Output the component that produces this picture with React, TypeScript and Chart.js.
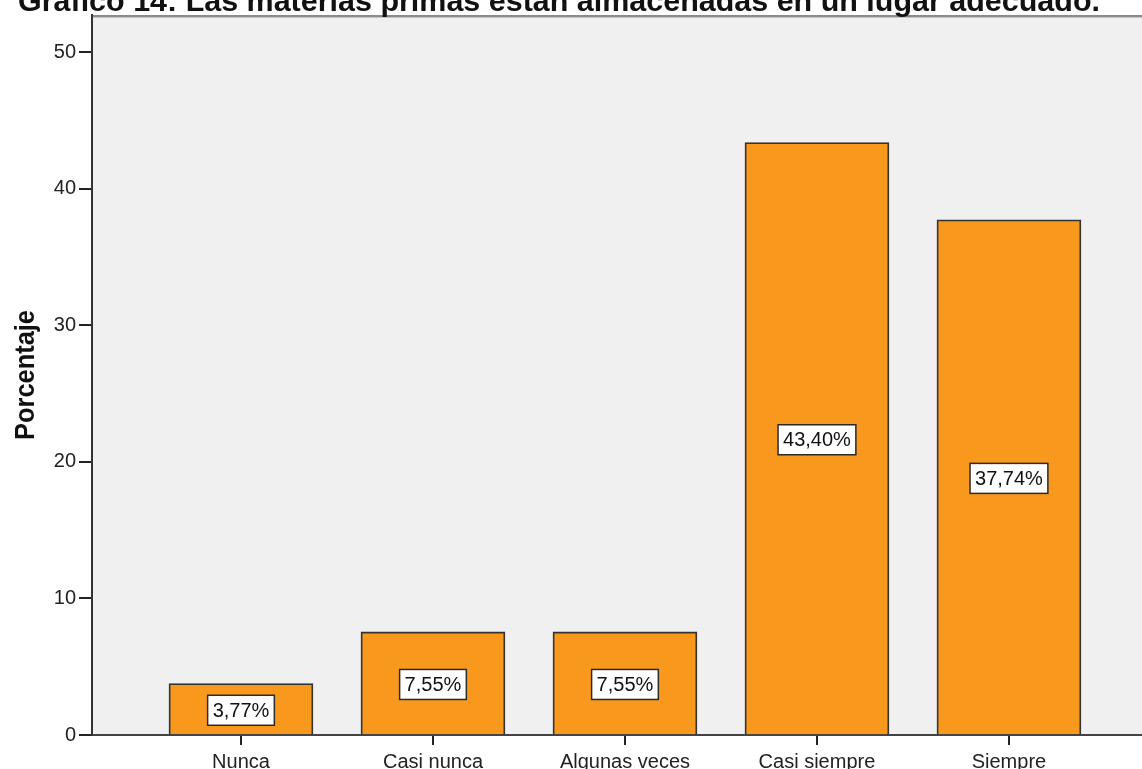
import { useEffect, useRef } from 'react';
import { Chart, registerables } from 'chart.js';

Chart.register(...registerables);

const categories = ['Nunca', 'Casi nunca', 'Algunas veces', 'Casi siempre', 'Siempre'];
const percentages = [3.77, 7.55, 7.55, 43.4, 37.74];
const yTicks = [0, 10, 20, 30, 40, 50];
const titleText = 'Gráfico 14: Las materias primas están almacenadas en un lugar adecuado.';
const yAxisTitle = 'Porcentaje';

const FONT = "Arial, 'Liberation Sans', sans-serif";

export default function App() {
  const ref = useRef<HTMLCanvasElement>(null);

  useEffect(() => {
    document.body.style.margin = '0';
    const canvas = ref.current!;

    const bgPlugin = {
      id: 'bgPlot',
      beforeDraw(chart: any) {
        const { ctx, chartArea: a } = chart;
        ctx.save();
        ctx.fillStyle = '#f0f0f0';
        ctx.fillRect(a.left, a.top, a.right - a.left, a.bottom - a.top);
        ctx.fillStyle = '#8a8a8a';
        ctx.fillRect(a.left, a.top, a.right - a.left, 2);
        ctx.fillStyle = '#c4c4c4';
        ctx.fillRect(a.left, a.top + 2, a.right - a.left, 1);
        ctx.restore();
      },
    };

    const labelsPlugin = {
      id: 'valueLabels',
      afterDatasetsDraw(chart: any) {
        const ctx = chart.ctx;
        const meta = chart.getDatasetMeta(0);
        ctx.save();
        ctx.font = `20px ${FONT}`;
        ctx.textAlign = 'center';
        ctx.textBaseline = 'middle';
        meta.data.forEach((el: any, i: number) => {
          const { x, y, base } = el.getProps(['x', 'y', 'base'], true);
          const mid = (y + base) / 2 + 1.5;
          const text = percentages[i].toFixed(2).replace('.', ',') + '%';
          const w = ctx.measureText(text).width + 10;
          const h = 30;
          ctx.fillStyle = '#ffffff';
          ctx.fillRect(x - w / 2, mid - h / 2, w, h);
          ctx.strokeStyle = '#2a2a2a';
          ctx.lineWidth = 1.5;
          ctx.strokeRect(x - w / 2, mid - h / 2, w, h);
          ctx.fillStyle = '#111111';
          ctx.fillText(text, x, mid + 1);
        });
        ctx.restore();
      },
    };

    const textPlugin = {
      id: 'texts',
      afterDraw(chart: any) {
        const ctx = chart.ctx;
        ctx.save();
        ctx.fillStyle = '#111111';
        ctx.font = `bold 30px ${FONT}`;
        ctx.textAlign = 'left';
        ctx.textBaseline = 'alphabetic';
        const tw = ctx.measureText(titleText).width;
        ctx.translate(18, 11);
        ctx.scale(1082 / tw, 1);
        ctx.fillText(titleText, 0, 0);
        ctx.restore();

        ctx.save();
        ctx.fillStyle = '#111111';
        ctx.font = `bold 28px ${FONT}`;
        ctx.textAlign = 'center';
        ctx.textBaseline = 'middle';
        const yw = ctx.measureText(yAxisTitle).width;
        ctx.translate(26, 375);
        ctx.rotate(-Math.PI / 2);
        ctx.scale(130 / yw, 1);
        ctx.fillText(yAxisTitle, 0, 0);
        ctx.restore();
      },
    };

    const chart = new Chart(canvas, {
      type: 'bar',
      data: {
        datasets: [
          {
            data: categories.map((_, i) => ({ x: i, y: percentages[i] })),
            backgroundColor: '#F8991E',
            borderColor: '#333333',
            borderWidth: 1.8,
            barThickness: 144,
          } as any,
        ],
      },
      options: {
        responsive: false,
        animation: false,
        devicePixelRatio: 1,
        layout: { padding: { top: 14, left: 0, right: 0, bottom: 0 } },
        plugins: {
          legend: { display: false },
          tooltip: { enabled: false },
          title: { display: false },
        },
        scales: {
          x: {
            type: 'linear',
            offset: false,
            min: -0.776,
            max: 4.693,
            afterBuildTicks: (s: any) => {
              s.ticks = categories.map((_, i) => ({ value: i }));
            },
            afterFit: (s: any) => {
              s.height = 34;
            },
            grid: { offset: false, drawOnChartArea: false, tickLength: 10, color: '#222', lineWidth: 2 },
            border: { color: '#444', width: 2 },
            ticks: {
              callback: (v: any) => categories[v] ?? '',
              font: { family: FONT, size: 20 },
              color: '#222',
              padding: 5,
              maxRotation: 0,
              autoSkip: false,
            },
          },
          y: {
            type: 'linear',
            min: 0,
            max: 52.74,
            afterBuildTicks: (s: any) => {
              s.ticks = yTicks.map((v) => ({ value: v }));
            },
            afterFit: (s: any) => {
              s.width = 92;
            },
            grid: { drawOnChartArea: false, tickLength: 13, color: '#222', lineWidth: 2 },
            border: { color: '#333', width: 2 },
            ticks: {
              font: { family: FONT, size: 20 },
              color: '#222',
              padding: 3,
            },
          },
        },
      } as any,
      plugins: [bgPlugin, labelsPlugin, textPlugin],
    });

    return () => chart.destroy();
  }, []);

  return <canvas ref={ref} width={1142} height={769} style={{ display: 'block' }} />;
}
